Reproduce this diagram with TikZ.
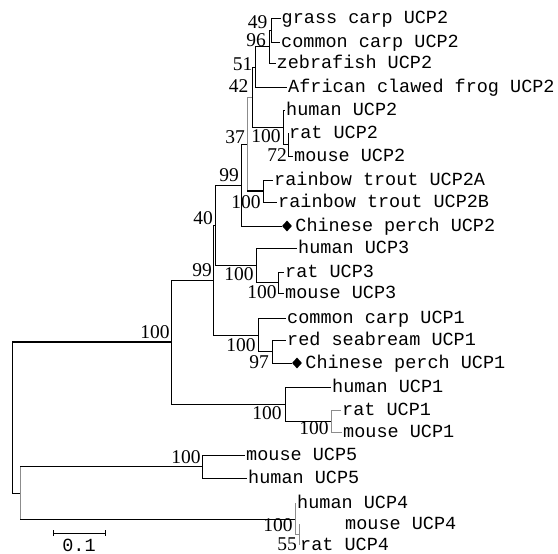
\documentclass[tikz,border=0pt]{standalone}
\usepackage{fontspec}
\setmainfont{Liberation Serif}
\newfontfamily\leaffont{Liberation Mono}
\usepackage{tikz}
\usetikzlibrary{arrows.meta,positioning,shapes.geometric}

\begin{document}
\begin{tikzpicture}[x=1pt, y=-1pt,
  % ── leaf label ───────────────────────────────────────────
  leaf/.style={anchor=west, inner sep=1pt,
               text height=10.6pt, text depth=0pt,
               font=\leaffont\fontsize{18.5}{20}\selectfont},
  % ── bootstrap value ──────────────────────────────────────
  boot/.style={inner sep=0pt, font=\fontsize{19.5}{20}\selectfont},
  % ── marker for Chinese perch ─────────────────────────────
  perchmark/.style={diamond, fill=black, inner sep=0pt,
                    minimum width=10pt, minimum height=11pt},
  % ── branch styles ────────────────────────────────────────
  br/.style={line width=0.9pt},
  faint/.style={draw=black!45}
]
\useasboundingbox (0,0) rectangle (558,554);

%% ── Leaves: UCP2 ──
\node[leaf] (gc2) at (280.5,18)  {grass carp UCP2};
\node[leaf] (cc2) at (280,42)    {common carp UCP2};
\node[leaf] (zf2) at (275.5,63)  {zebrafish UCP2};
\node[leaf] (fr2) at (287,87)    {African clawed frog UCP2};
\node[leaf] (hu2) at (285,110)   {human UCP2};
\node[leaf] (ra2) at (288,133)   {rat UCP2};
\node[leaf] (mo2) at (293,156)   {mouse UCP2};
\node[leaf] (tA)  at (273,180)   {rainbow trout UCP2A};
\node[leaf] (tB)  at (277,202)   {rainbow trout UCP2B};
\node[perchmark] (dm2) at (287,226) {};
\node[leaf, right=2pt of dm2] (cp2) {Chinese perch UCP2};

%% ── Leaves: UCP3 ──
\node[leaf] (hu3) at (297,248)   {human UCP3};
\node[leaf] (ra3) at (284,272)   {rat UCP3};
\node[leaf] (mo3) at (284,293)   {mouse UCP3};

%% ── Leaves: UCP1 ──
\node[leaf] (cc1) at (286,318)   {common carp UCP1};
\node[leaf] (rs1) at (286,340)   {red seabream UCP1};
\node[perchmark] (dm1) at (297,363) {};
\node[leaf, right=2pt of dm1] (cp1) {Chinese perch UCP1};
\node[leaf] (hu1) at (331,387)   {human UCP1};
\node[leaf] (ra1) at (341,410)   {rat UCP1};
\node[leaf] (mo1) at (342,432)   {mouse UCP1};

%% ── Leaves: UCP5 / UCP4 ──
\node[leaf] (mo5) at (245,455)   {mouse UCP5};
\node[leaf] (hu5) at (247,478)   {human UCP5};
\node[leaf] (hu4) at (296,503)   {human UCP4};
\node[leaf] (mo4) at (344,524)   {mouse UCP4};
\node[leaf] (ra4) at (299,545)   {rat UCP4};

%% ── Internal nodes ──
\coordinate (N49)  at (271,30);
\coordinate (N96)  at (269,46.5);
\coordinate (N51)  at (255,67);
\coordinate (N72)  at (288,144.5);
\coordinate (NH2)  at (283,127);
\coordinate (N42)  at (252,97);
\coordinate (NT)   at (263,191);
\coordinate (N37)  at (247,144);
\coordinate (N99a) at (241,185);
\coordinate (NM3)  at (278,282.5);
\coordinate (N3)   at (256,265);
\coordinate (N40)  at (215,225);
\coordinate (N97)  at (272,351.5);
\coordinate (N1f)  at (258,335);
\coordinate (N99b) at (213,280);
\coordinate (NM1)  at (331,421);
\coordinate (N1m)  at (285,404);
\coordinate (NA)   at (171,342);
\coordinate (N5)   at (202,466.5);
\coordinate (N55)  at (299,534.5);
\coordinate (N4)   at (295,519);
\coordinate (NB)   at (20,493);
\coordinate (Root) at (12,417);

%% ── Branches: UCP2 ──
\draw[br] (N49) |- (gc2.west);
\draw[br] (N49) |- (cc2.west);
\draw[br] (N96) |- (N49);
\draw[br] (N96) |- (zf2.west);
\draw[br] (N51) |- (N96);
\draw[br] (N51) |- (fr2.west);
\draw[br] (N72) |- (ra2.west);
\draw[br] (N72) |- (mo2.west);
\draw[br] (NH2) |- (hu2.west);
\draw[br] (NH2) |- (N72);
\draw[br] (N42) |- (N51);
\draw[br] (N42) |- (NH2);
\draw[br] (NT) |- (tA.west);
\draw[br] (NT) |- (tB.west);
\draw[br,faint] (N37) |- (N42);
\draw[br,faint] (N37) |- (NT);
\draw[line width=1.5pt] (N37 |- NT) -- (NT);
\draw[br] (N99a) |- (N37);
\draw[br] (N99a) |- (dm2.west);

%% ── Branches: UCP3 ──
\draw[br] (NM3) |- (ra3.west);
\draw[br] (NM3) |- (mo3.west);
\draw[br] (N3) |- (hu3.west);
\draw[br] (N3) |- (NM3);
\draw[br] (N40) |- (N99a);
\draw[br] (N40) |- (N3);

%% ── Branches: UCP1 ──
\draw[br] (N97) |- (rs1.west);
\draw[br] (N97) |- (dm1.west);
\draw[br] (N1f) |- (cc1.west);
\draw[br] (N1f) |- (N97);
\draw[br] (N99b) |- (N40);
\draw[br] (N99b) |- (N1f);
\draw[br,faint] (NM1) |- (ra1.west);
\draw[br,faint] (NM1) |- (mo1.west);
\draw[br] (N1m) |- (hu1.west);
\draw[br] (N1m) |- (NM1);
\draw[br] (NA) |- (N99b);
\draw[br] (NA) |- (N1m);

%% ── Branches: UCP5 / UCP4 ──
\draw[br] (N5) |- (mo5.west);
\draw[br] (N5) |- (hu5.west);
\draw[br,faint] (N55) -- (N55 |- mo4.west);
\draw[br,faint] (N55) |- (ra4.west);
\draw[br,faint] (N4) |- (hu4.west);
\draw[br,faint] (N4) |- (N55);
\draw[br,faint] (NB) |- (N5);
\draw[br,faint] (NB) |- (N4);
\draw[br] (NB |- N5) -- (N5);
\draw[br] (NB |- N4) -- (N4);

%% ── Root ──
\draw[br] (Root) |- (NA);
\draw[br] (Root) |- (NB);
\draw[line width=1.6pt] (Root |- NA) -- (NA);

%% ── Bootstrap values ──
\node[boot] (b49)  at (257.5,22) {49};
\node[boot] (b96)  at (256,40)   {96};
\node[boot] (b51)  at (242.5,64) {51};
\node[boot] (b42)  at (238.5,86) {42};
\node[boot] (b37)  at (235,137)  {37};
\node[boot] (bH2)  at (266,136)  {100};
\node[boot] (b72)  at (277,155)  {72};
\node[boot] (b99a) at (229,175)  {99};
\node[boot] (bT)   at (246,202)  {100};
\node[boot] (b40)  at (203,218)  {40};
\node[boot] (b3)   at (239,274)  {100};
\node[boot] (b99b) at (202,270)  {99};
\node[boot] (bM3)  at (262,292)  {100};
\node[boot] (b1f)  at (241,345)  {100};
\node[boot] (b97)  at (259,362)  {97};
\node[boot] (bA)   at (155,332)  {100};
\node[boot] (b1m)  at (267,413)  {100};
\node[boot] (bM1)  at (314,428)  {100};
\node[boot] (b5)   at (186,457)  {100};
\node[boot] (b4)   at (278,525)  {100};
\node[boot] (b55)  at (287,544)  {55};

%% ── Scale bar ──
\coordinate (sbL) at (53,533);
\coordinate (sbR) at (106,533);
\draw[br, {Bar[width=6pt]}-{Bar[width=6pt]}] (sbL) -- (sbR);
\node[leaf, anchor=center] (sbT) at (79,546) {0.1};

\end{tikzpicture}
\end{document}
